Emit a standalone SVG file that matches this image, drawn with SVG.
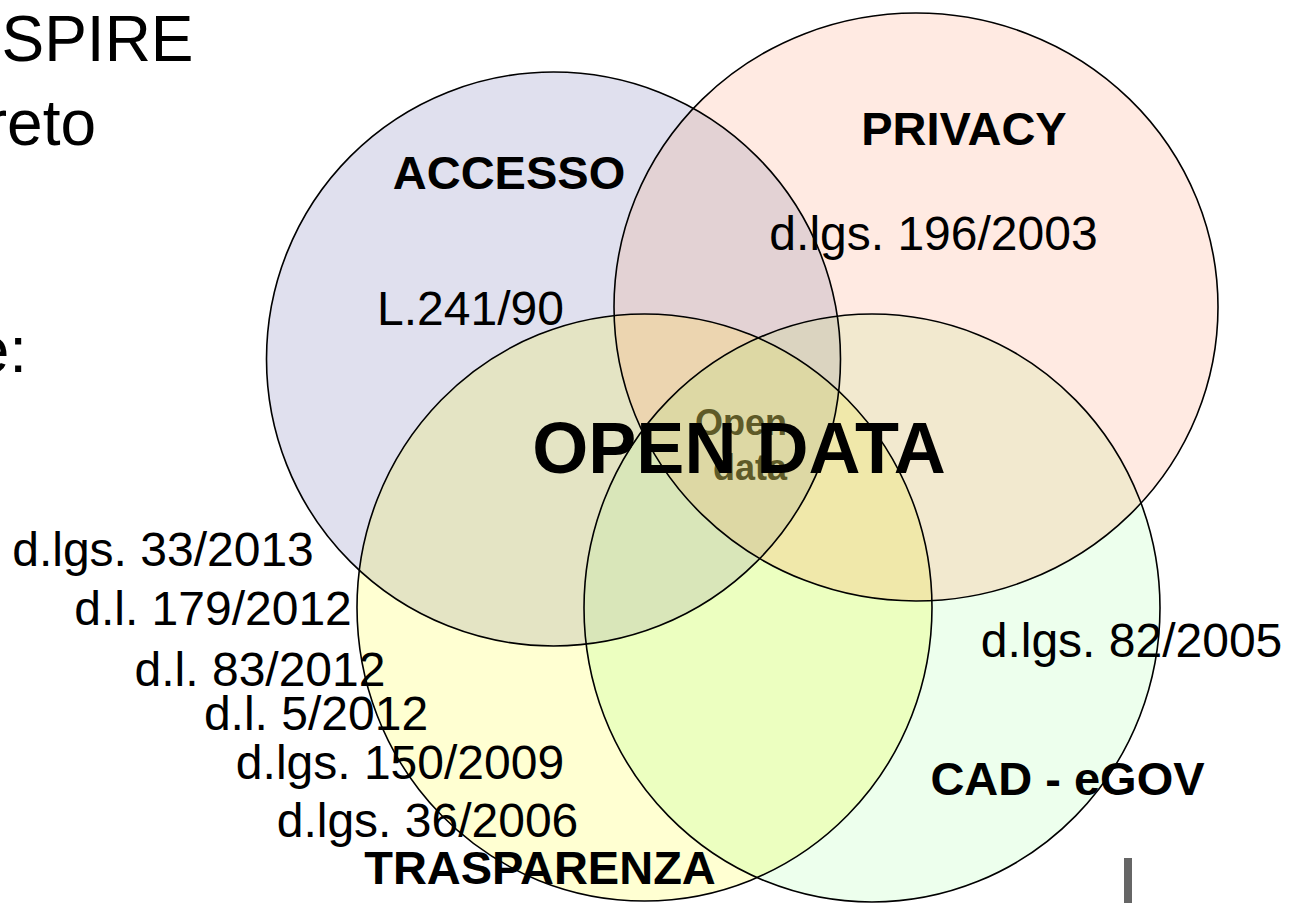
<svg xmlns="http://www.w3.org/2000/svg" width="1289" height="903" viewBox="0 0 1289 903">
<style>
  text { font-family: "Liberation Sans", Arial, sans-serif; fill: #000; }
  .reg { font-size: 48px; }
  .bold { font-size: 47px; font-weight: bold; }
  .big { font-size: 64px; }
  .title { font-size: 72px; font-weight: bold; }
  .sub { font-size: 36px; font-weight: bold; fill: #5e5a28; }
  .outline { fill: none; stroke: #000; stroke-width: 1.6; }
</style>
<defs>
  <clipPath id="cA"><circle cx="553.5" cy="359" r="287"/></clipPath>
  <clipPath id="cP"><ellipse cx="916" cy="307" rx="302" ry="294"/></clipPath>
  <clipPath id="cT"><ellipse cx="644.5" cy="607.5" rx="287.5" ry="293.5"/></clipPath>
  <clipPath id="cC"><ellipse cx="872" cy="608" rx="288" ry="294"/></clipPath>
  <rect id="full" x="0" y="0" width="1289" height="903"/>
</defs>
<rect width="1289" height="903" fill="#fff"/>

<g id="side-text">
  <text class="big" x="97.5" y="61" text-anchor="middle">SPIRE</text>
  <text class="big" x="96" y="145" text-anchor="end">reto</text>
  <text class="big" x="27" y="372" text-anchor="end">e:</text>
</g>

<g id="venn-fills">
  <!-- single sets -->
  <circle cx="553.5" cy="359" r="287" fill="#e0e0ee"/>
  <ellipse cx="916" cy="307" rx="302" ry="294" fill="#ffeae2"/>
  <ellipse cx="644.5" cy="607.5" rx="287.5" ry="293.5" fill="#ffffd2"/>
  <ellipse cx="872" cy="608" rx="288" ry="294" fill="#edffed"/>
  <!-- pairs -->
  <g clip-path="url(#cA)"><use href="#full" clip-path="url(#cP)" fill="#e3d2d4"/></g>
  <g clip-path="url(#cA)"><use href="#full" clip-path="url(#cT)" fill="#e4e4c4"/></g>
  <g clip-path="url(#cP)"><use href="#full" clip-path="url(#cC)" fill="#f2e9cf"/></g>
  <g clip-path="url(#cT)"><use href="#full" clip-path="url(#cC)" fill="#ecffc0"/></g>
  <!-- triples -->
  <g clip-path="url(#cA)"><g clip-path="url(#cP)"><use href="#full" clip-path="url(#cT)" fill="#ecd5b0"/></g></g>
  <g clip-path="url(#cA)"><g clip-path="url(#cP)"><use href="#full" clip-path="url(#cC)" fill="#dbd4c0"/></g></g>
  <g clip-path="url(#cA)"><g clip-path="url(#cT)"><use href="#full" clip-path="url(#cC)" fill="#d9e6b9"/></g></g>
  <g clip-path="url(#cP)"><g clip-path="url(#cT)"><use href="#full" clip-path="url(#cC)" fill="#f0e8aa"/></g></g>
  <!-- all four -->
  <g clip-path="url(#cA)"><g clip-path="url(#cP)"><g clip-path="url(#cT)"><use href="#full" clip-path="url(#cC)" fill="#ddd8a4"/></g></g></g>
</g>

<g id="node-open-data-core">
  <text class="sub" x="695" y="435">Open</text>
  <text class="sub" x="713" y="480">data</text>
</g>

<g id="node-accesso">
  <circle class="outline" cx="553.5" cy="359" r="287"/>
  <text class="bold" x="509" y="189" text-anchor="middle">ACCESSO</text>
  <text class="reg" x="470.5" y="325" text-anchor="middle">L.241/90</text>
</g>

<g id="node-privacy">
  <ellipse class="outline" cx="916" cy="307" rx="302" ry="294"/>
  <text class="bold" x="964" y="145" text-anchor="middle">PRIVACY</text>
  <text class="reg" x="933.5" y="250" text-anchor="middle">d.lgs. 196/2003</text>
</g>

<g id="node-trasparenza">
  <ellipse class="outline" cx="644.5" cy="607.5" rx="287.5" ry="293.5"/>
  <text class="reg" x="163" y="566" text-anchor="middle">d.lgs. 33/2013</text>
  <text class="reg" x="213" y="625" text-anchor="middle">d.l. 179/2012</text>
  <text class="reg" x="260" y="686" text-anchor="middle">d.l. 83/2012</text>
  <text class="reg" x="316" y="730" text-anchor="middle">d.l. 5/2012</text>
  <text class="reg" x="400" y="779" text-anchor="middle">d.lgs. 150/2009</text>
  <text class="reg" x="427.5" y="837" text-anchor="middle">d.lgs. 36/2006</text>
  <text class="bold" x="540" y="884" text-anchor="middle">TRASPARENZA</text>
</g>

<g id="node-cad-egov">
  <ellipse class="outline" cx="872" cy="608" rx="288" ry="294"/>
  <text class="reg" x="1131.5" y="657" text-anchor="middle">d.lgs. 82/2005</text>
  <text class="bold" x="1067.5" y="795" text-anchor="middle">CAD - eGOV</text>
</g>

<g id="node-open-data">
  <text class="title" x="739" y="473" text-anchor="middle">OPEN DATA</text>
</g>

<rect id="bar" x="1124" y="858" width="8" height="45" fill="#666"/>
</svg>
